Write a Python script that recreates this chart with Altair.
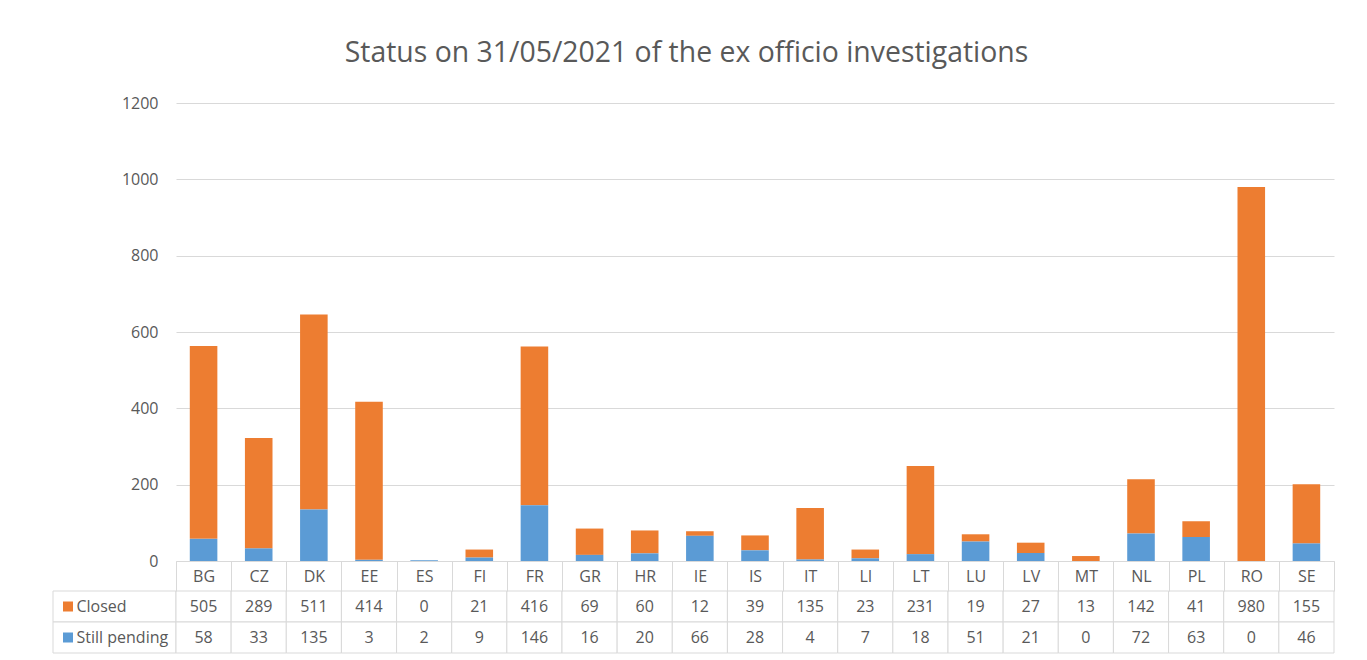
import altair as alt
import pandas as pd

countries = ["BG", "CZ", "DK", "EE", "ES", "FI", "FR", "GR", "HR", "IE", "IS",
             "IT", "LI", "LT", "LU", "LV", "MT", "NL", "PL", "RO", "SE"]
closed = [505, 289, 511, 414, 0, 21, 416, 69, 60, 12, 39,
          135, 23, 231, 19, 27, 13, 142, 41, 980, 155]
pending = [58, 33, 135, 3, 2, 9, 146, 16, 20, 66, 28,
           4, 7, 18, 51, 21, 0, 72, 63, 0, 46]
series_names = ["Closed", "Still pending"]
series_colors = ["#ED7D31", "#5B9BD5"]
y_ticks = [0, 200, 400, 600, 800, 1000, 1200]
title_text = "Status on 31/05/2021  of the ex officio investigations"

rows = []
for i, c in enumerate(countries):
    rows.append({"country": c, "series": "Closed", "value": closed[i], "stack_order": 1})
    rows.append({"country": c, "series": "Still pending", "value": pending[i], "stack_order": 0})
df = pd.DataFrame(rows)
legend_df = pd.DataFrame({"series": series_names})

TXT = "#595959"
GRID = "#D9D9D9"
FONT = "Open Sans"
color_scale = alt.Scale(domain=series_names, range=series_colors)

bars = alt.Chart(df).mark_bar().encode(
    x=alt.X("country:N", sort=countries,
            scale=alt.Scale(paddingInner=0.5, paddingOuter=0.25),
            axis=alt.Axis(title=None, labels=False, ticks=False, domain=True,
                          domainColor=GRID, grid=False)),
    y=alt.Y("value:Q", stack="zero", scale=alt.Scale(domain=[0, 1200], nice=False),
            axis=alt.Axis(title=None, values=y_ticks, format="d", grid=True, gridColor=GRID,
                          domain=False, ticks=False, labelPadding=18,
                          labelFontSize=16, labelColor=TXT, labelFont=FONT)),
    color=alt.Color("series:N", scale=color_scale, legend=None),
    order=alt.Order("stack_order:Q", sort="ascending"),
).properties(width=1158, height=458)

x_tab = alt.X("country:N", sort=countries,
              scale=alt.Scale(paddingInner=0, paddingOuter=0),
              axis=alt.Axis(orient="top", title=None, domain=False, ticks=True,
                            tickBand="extent", tickSize=30, tickColor=GRID,
                            labelAngle=0, labelPadding=-15, labelBaseline="middle",
                            labelFontSize=16, labelColor=TXT, labelFont=FONT, grid=False))
y_tab = alt.Y("series:N", sort=series_names,
              scale=alt.Scale(paddingInner=0, paddingOuter=0),
              axis=alt.Axis(title=None, domain=False, ticks=False, tickSize=0,
                            labelAlign="left", labelPadding=100, labelFontSize=16,
                            labelColor=TXT, labelFont=FONT, grid=False))

cells = alt.Chart(df).mark_rect(fill="white", stroke=GRID, strokeWidth=1).encode(x=x_tab, y=y_tab)
texts = alt.Chart(df).mark_text(fontSize=16, font=FONT, color=TXT).encode(
    x=x_tab, y=y_tab, text=alt.Text("value:Q", format="d"))
left_cells = alt.Chart(legend_df).mark_rect(fill="white", stroke=GRID, strokeWidth=1).encode(
    x=alt.value(-123), x2=alt.value(0), y=y_tab)
keys = alt.Chart(legend_df).mark_point(shape="square", filled=True, size=100, opacity=1).encode(
    x=alt.value(-108), y=y_tab,
    color=alt.Color("series:N", scale=color_scale, legend=None))
table = alt.layer(left_cells, cells, texts, keys).properties(width=1158, height=62)

chart = alt.vconcat(bars, table, spacing=-9).resolve_scale(
    x="independent", y="independent", color="shared"
).properties(
    title=alt.TitleParams(title_text, fontSize=28.4, font=FONT, color=TXT,
                          fontWeight="normal", anchor="middle", frame="bounds",
                          offset=27, dx=-7),
    padding={"left": 44, "top": 30, "right": 5, "bottom": 5},
    background="white",
).configure_view(strokeWidth=0, stroke="transparent")

chart.save("out.html", embed_options={"renderer": "svg", "actions": False})
